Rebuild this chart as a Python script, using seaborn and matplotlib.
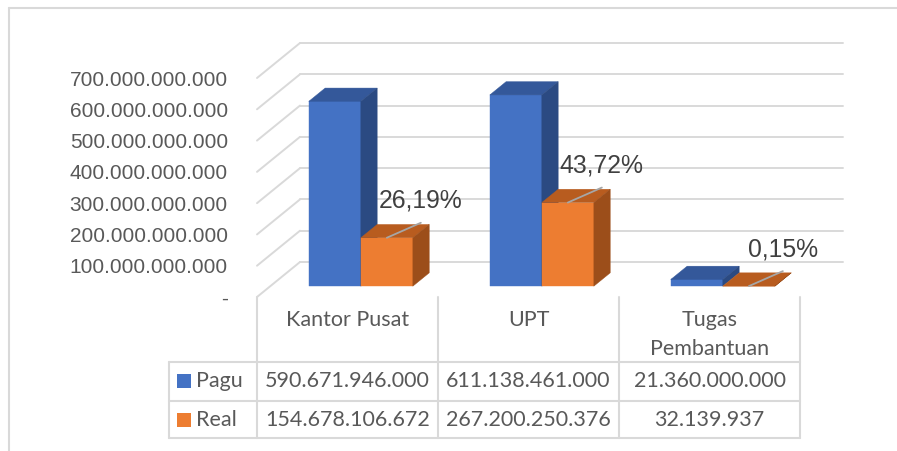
import matplotlib
matplotlib.use('Agg')
import matplotlib.pyplot as plt
import seaborn as sns
import pandas as pd
import numpy as np
from matplotlib.patches import Polygon, Rectangle
from matplotlib.lines import Line2D

categories = ['Kantor Pusat', 'UPT', 'Tugas\nPembantuan']
series = ['Pagu', 'Real']
pagu = [590671946000, 611138461000, 21360000000]
real = [154678106672, 267200250376, 32139937]
y_ticks = [0, 100e9, 200e9, 300e9, 400e9, 500e9, 600e9, 700e9]

front_colors = {'Pagu': '#4472C4', 'Real': '#ED7D31'}
top_colors = {'Pagu': '#34589A', 'Real': '#B85C1F'}
side_colors = {'Pagu': '#2B4A82', 'Real': '#9C4E1A'}
grid_color = '#D9D9D9'
text_grey = '#595959'

W, H = 897, 451


def fig_pt(x, y):
    """pixel (from top-left) -> figure fraction"""
    return x / W, 1 - y / H


sns.set_theme(style='white')
plt.rcParams['font.family'] = ['Liberation Sans', 'DejaVu Sans']

fig = plt.figure(figsize=(W / 100, H / 100), dpi=100)
ax = fig.add_axes([257 / W, (H - 297) / H, 543 / W, 219 / H])

df = pd.DataFrame({
    'cat': categories * 2,
    'series': [series[0]] * 3 + [series[1]] * 3,
    'value': pagu + real,
})
sns.barplot(data=df, x='cat', y='value', hue='series', palette=front_colors,
            width=0.575, gap=0, saturation=1, errorbar=None, legend=False,
            linewidth=0, ax=ax)
ax.set_xlim(-0.5, 2.5)
ax.set_ylim(0, 700e9)

# depth vector of the 3D box (43 px right, 35 px up) in data units
p0 = ax.transData.transform((0, 0))
ddx, ddy = ax.transData.inverted().transform(p0 + np.array([43, 35]))
D0, D1 = 0.31, 0.69

# back wall + side wall gridlines
for v in y_ticks:
    ax.add_line(Line2D([-0.5 + ddx, 2.5 + ddx], [v + ddy, v + ddy], color=grid_color,
                       lw=1.4, zorder=1, clip_on=False))
    ax.add_line(Line2D([-0.5, -0.5 + ddx], [v, v + ddy], color=grid_color,
                       lw=1.4, zorder=1, clip_on=False))

# turn the flat bars into 3D columns (left bar of each pair = Pagu)
bars = sorted([p for p in ax.patches if isinstance(p, Rectangle)], key=lambda p: p.get_x())
z = 3
for b in bars:
    w = b.get_width()
    h = b.get_height()
    mid = b.get_x() + w / 2
    hue = 'Pagu' if mid < round(mid) else 'Real'
    x0 = b.get_x() + D0 * ddx
    y0 = D0 * ddy
    b.set_x(x0)
    b.set_y(y0)
    b.set_clip_on(False)
    b.set_zorder(z)
    b.set_edgecolor(front_colors[hue])
    b.set_linewidth(0.3)
    dx, dy = (D1 - D0) * ddx, (D1 - D0) * ddy
    top = Polygon([(x0, y0 + h), (x0 + w, y0 + h), (x0 + w + dx, y0 + h + dy), (x0 + dx, y0 + h + dy)],
                  closed=True, fc=top_colors[hue], ec=top_colors[hue], lw=0.3, zorder=z, clip_on=False)
    side = Polygon([(x0 + w, y0), (x0 + w, y0 + h), (x0 + w + dx, y0 + h + dy), (x0 + w + dx, y0 + dy)],
                   closed=True, fc=side_colors[hue], ec=side_colors[hue], lw=0.3, zorder=z, clip_on=False)
    ax.add_patch(top)
    ax.add_patch(side)
    z += 1

# percentage labels with leader lines on the Real bars
real_bars = bars[1::2]
for b, p, r in zip(real_bars, pagu, real):
    start = ax.transData.transform((b.get_x() + b.get_width() / 2, b.get_y() + b.get_height()))
    s = ax.transData.inverted().transform(start)
    e = ax.transData.inverted().transform(start + np.array([34, 15]))
    t = ax.transData.inverted().transform(start + np.array([34, 37]))
    ax.add_line(Line2D([s[0], e[0]], [s[1], e[1]], color='#A6A6A6', lw=1.3, zorder=20, clip_on=False))
    ax.text(t[0], t[1], f'{r / p * 100:.2f}%'.replace('.', ','), ha='center', va='center',
            fontsize=17.8, color='#404040', zorder=21, clip_on=False)

# value axis labels
ax.set_yticks(y_ticks)
ax.set_yticklabels(['-' if v == 0 else f'{v:,.0f}'.replace(',', '.') for v in y_ticks])
ax.tick_params(axis='y', length=0, pad=21, labelsize=15, labelcolor=text_grey)
ax.set_xticks([])
ax.set_xlabel('')
ax.set_ylabel('')
for sp in ax.spines.values():
    sp.set_visible(False)
ax.patch.set_visible(False)

# data table below the plot
col_px = [ax.transData.transform((c, 0))[0] for c in [-0.5, 0.5, 1.5, 2.5]]
left_px = 169
row_lines = [362, 401, 438]
tfont = dict(family=['Lato', 'DejaVu Sans'], fontsize=15.5, color=text_grey)


def fig_line(xs, ys, **kw):
    pts = [fig_pt(x, y) for x, y in zip(xs, ys)]
    fig.add_artist(Line2D([p[0] for p in pts], [p[1] for p in pts], color=grid_color, lw=1.5, **kw))


for cx in col_px:
    fig_line([cx, cx], [297, row_lines[-1]])
fig_line([left_px, left_px], [row_lines[0], row_lines[-1]])
for ry in row_lines:
    fig_line([left_px, col_px[-1]], [ry, ry])

for i, cat in enumerate(categories):
    cx = (col_px[i] + col_px[i + 1]) / 2
    for j, line in enumerate(cat.split('\n')):
        fig.text(*fig_pt(cx, 326 + j * 29), line, ha='center', va='baseline', **tfont)

row_base = [387, 426]
for k, (name, vals) in enumerate(zip(series, [pagu, real])):
    sq = Rectangle(fig_pt(177, row_base[k] + 1), 14 / W, 14 / H, transform=fig.transFigure,
                   fc=front_colors[name], ec='none')
    fig.add_artist(sq)
    fig.text(*fig_pt(196, row_base[k]), name, ha='left', va='baseline', **tfont)
    for i, v in enumerate(vals):
        cx = (col_px[i] + col_px[i + 1]) / 2
        fig.text(*fig_pt(cx, row_base[k]), f'{v:,.0f}'.replace(',', '.'), ha='center', va='baseline', **tfont)

# chart area border (top and left edge)
fig_line([9, W], [8, 8])
fig_line([9, 9], [8, H])

fig.savefig('out.png', dpi=100)
plt.close(fig)
